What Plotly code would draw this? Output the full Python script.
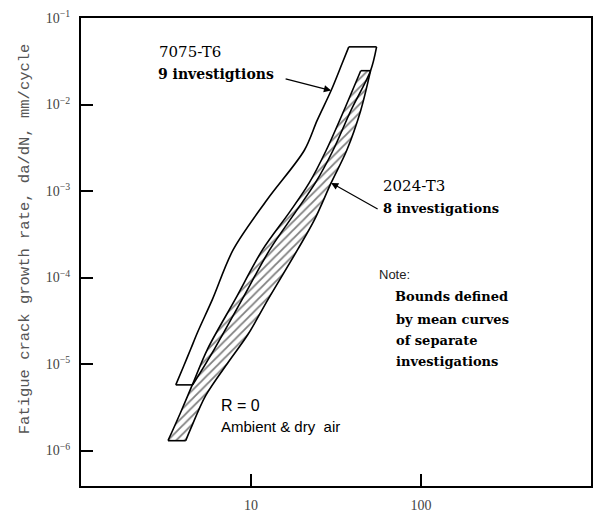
import numpy as np
import plotly.graph_objects as go

# ---- data (stress-intensity range, crack growth rate) ----
# 7075-T6 scatter band: left (upper) bound and right (lower) bound, bottom -> top
al7075_left_dk = [3.61, 4.02, 4.42, 4.85, 5.93, 7.86, 12.4, 20.6, 24.5, 29.6, 34.3, 37.6]
al7075_left_rate = [5.74e-6, 9.48e-6, 1.49e-5, 2.33e-5, 5.59e-5, 2.10e-4, 7.88e-4,
                    2.96e-3, 6.55e-3, 1.45e-2, 2.96e-2, 4.64e-2]
al7075_right_dk = [4.54, 6.09, 8.87, 12.9, 18.3, 23.9, 30.4, 38.7, 50.5, 54.8]
al7075_right_rate = [5.74e-6, 1.49e-5, 5.59e-5, 2.10e-4, 5.74e-4, 1.24e-3, 2.96e-3,
                     8.53e-3, 2.46e-2, 4.64e-2]

# 2024-T3 scatter band (hatched), bottom -> top
al2024_left_dk = [3.25, 3.87, 4.54, 5.55, 8.07, 11.7, 16.9, 22.0, 27.7, 35.2, 44.2]
al2024_left_rate = [1.30e-6, 2.81e-6, 5.89e-6, 1.49e-5, 5.59e-5, 2.10e-4, 5.74e-4,
                    1.24e-3, 2.96e-3, 8.53e-3, 2.46e-2]
al2024_right_dk = [4.13, 4.42, 5.40, 7.35, 9.61, 12.6, 18.8, 23.6, 29.6, 36.6, 44.2, 50.5]
al2024_right_rate = [1.30e-6, 1.79e-6, 4.29e-6, 1.05e-5, 2.21e-5, 5.59e-5, 2.10e-4,
                     4.64e-4, 1.24e-3, 2.96e-3, 8.53e-3, 2.46e-2]

x_tickvals = [10, 100]
x_ticktext = ["10", "100"]
y_tickvals = [1e-6, 1e-5, 1e-4, 1e-3, 1e-2, 1e-1]
y_ticktext = ["10<sup>−6</sup>", "10<sup>−5</sup>", "10<sup>−4</sup>",
              "10<sup>−3</sup>", "10<sup>−2</sup>", "10<sup>−1</sup>"]

y_title = "Fatigue crack growth rate, da/dN, mm/cycle"

# ---- layout geometry ----
W, H = 598, 518
ML, MR, MT, MB = 81, 5, 18, 30
PW, PH = W - ML - MR, H - MT - MB


def paper(px, py):
    return (px - ML) / PW, (H - MB - py) / PH


fig = go.Figure()
edge = dict(color="black", width=1.6, shape="spline", smoothing=0.9)
straight = dict(color="black", width=1.6)


def band(left_x, left_y, right_x, right_y, pattern):
    if pattern:
        # hatched area: polygon made of both bounds
        px_ = list(left_x) + list(right_x)[::-1] + [left_x[0]]
        py_ = list(left_y) + list(right_y)[::-1] + [left_y[0]]
        fig.add_trace(go.Scatter(
            x=px_, y=py_, mode="lines", fill="toself", fillcolor="white",
            fillpattern=dict(shape="/", fgcolor="black", bgcolor="white",
                             size=6, solidity=0.3),
            line=dict(width=0, color="rgba(0,0,0,0)"),
            hoverinfo="skip", showlegend=False))
    fig.add_trace(go.Scatter(x=left_x, y=left_y, mode="lines", line=edge,
                             hoverinfo="skip", showlegend=False))
    fig.add_trace(go.Scatter(x=right_x, y=right_y, mode="lines", line=edge,
                             hoverinfo="skip", showlegend=False))
    # closing top and bottom edges of the band
    for i in (0, -1):
        fig.add_trace(go.Scatter(x=[left_x[i], right_x[i]], y=[left_y[i], right_y[i]],
                                 mode="lines", line=straight,
                                 hoverinfo="skip", showlegend=False))


band(al2024_left_dk, al2024_left_rate, al2024_right_dk, al2024_right_rate, True)
band(al7075_left_dk, al7075_left_rate, al7075_right_dk, al7075_right_rate, False)

serif = "DejaVu Serif"
sans = "Liberation Sans"

annotations = []


def txt(text, px, py, family=serif, size=14, bold=False, color="black"):
    x, y = paper(px, py)
    annotations.append(dict(
        text=f"<b>{text}</b>" if bold else text, x=x, y=y, xref="paper", yref="paper",
        xanchor="left", yanchor="middle", showarrow=False,
        font=dict(family=family, size=size, color=color)))


txt("7075-T6", 157, 52, size=15)
txt("9 investigtions", 156, 74, size=14, bold=True)
txt("2024-T3", 382, 187, size=15)
txt("8 investigations", 382, 209, size=13, bold=True)
txt("Note:", 378, 276, family=sans, size=13, color="#222")
txt("Bounds defined", 394, 298, size=13, bold=True)
txt("by mean curves", 395, 321, size=13, bold=True)
txt("of separate", 395, 342, size=13, bold=True)
txt("investigations", 395, 363, size=13, bold=True)
txt("R = 0", 220, 407, family=sans, size=16)
txt("Ambient &amp; dry\u00a0\u00a0air", 220, 428, family=sans, size=15)

# leader arrows pointing at the band edges
annotations.append(dict(
    x=np.log10(al7075_left_dk[9]), y=np.log10(al7075_left_rate[9]), xref="x", yref="y",
    ax=-47, ay=-12, text="", showarrow=True, arrowhead=2, arrowsize=1.2,
    arrowwidth=1.2, arrowcolor="black"))
annotations.append(dict(
    x=np.log10(al2024_right_dk[8]), y=np.log10(al2024_right_rate[8]), xref="x", yref="y",
    ax=48, ay=27, text="", showarrow=True, arrowhead=2, arrowsize=1.2,
    arrowwidth=1.2, arrowcolor="black"))

# rotated y-axis title
tx, ty = paper(25, 240)
annotations.append(dict(
    text=y_title, x=tx, y=ty, xref="paper", yref="paper", textangle=-90,
    xanchor="center", yanchor="middle", showarrow=False,
    font=dict(family="Liberation Mono", size=15.5, color="#555")))

axis_common = dict(
    type="log", showline=True, linecolor="black", linewidth=2, mirror=True,
    ticks="inside", ticklen=12, tickwidth=1.5, tickcolor="black",
    showgrid=False, zeroline=False,
    tickfont=dict(family="Liberation Serif", size=14, color="#444"),
)

fig.update_layout(
    width=W, height=H,
    margin=dict(l=ML, r=MR, t=MT, b=MB),
    paper_bgcolor="white", plot_bgcolor="white",
    xaxis=dict(range=[0, 3], tickvals=x_tickvals, ticktext=x_ticktext,
               ticklabelstandoff=5, **axis_common),
    yaxis=dict(range=[-6.41, -1], tickvals=y_tickvals, ticktext=y_ticktext,
               ticklabelstandoff=6, **axis_common),
    annotations=annotations,
    showlegend=False,
)

fig.write_html("out.html")
